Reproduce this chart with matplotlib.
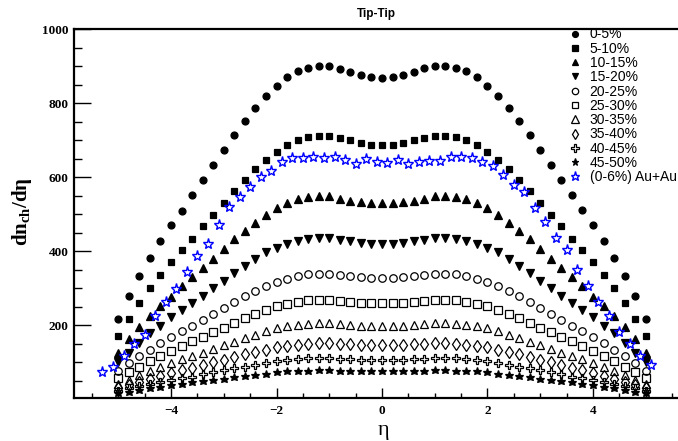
import numpy as np
import matplotlib
matplotlib.use("Agg")
import matplotlib.pyplot as plt

# eta grid of the model curves and of the Au+Au points
eta = [-5.0, -4.8, -4.6, -4.4, -4.2, -4.0, -3.8, -3.6, -3.4, -3.2, -3.0,
       -2.8, -2.6, -2.4, -2.2, -2.0, -1.8, -1.6, -1.4, -1.2, -1.0,
       -0.8, -0.6, -0.4, -0.2, 0.0, 0.2, 0.4, 0.6, 0.8, 1.0,
       1.2, 1.4, 1.6, 1.8, 2.0, 2.2, 2.4, 2.6, 2.8, 3.0,
       3.2, 3.4, 3.6, 3.8, 4.0, 4.2, 4.4, 4.6, 4.8, 5.0]
eta_au = [-5.3, -5.1, -4.9, -4.7, -4.5, -4.3, -4.1, -3.9, -3.7, -3.5, -3.3,
          -3.1, -2.9, -2.7, -2.5, -2.3, -2.1, -1.9, -1.7, -1.5, -1.3,
          -1.1, -0.9, -0.7, -0.5, -0.3, -0.1, 0.1, 0.3, 0.5, 0.7,
          0.9, 1.1, 1.3, 1.5, 1.7, 1.9, 2.1, 2.3, 2.5, 2.7,
          2.9, 3.1, 3.3, 3.5, 3.7, 3.9, 4.1, 4.3, 4.5, 4.7, 4.9, 5.1]

c0_5 = [217, 279, 334, 382, 427, 470, 510, 553, 593, 634, 674, 713, 752, 788, 820, 847,
        870, 886, 896, 901, 901, 893, 885, 877, 871, 868, 871, 877, 885, 894, 900, 901,
        895, 886, 870, 847, 820, 788, 752, 713, 674, 634, 593, 552, 511, 470, 427, 381,
        334, 279, 217]
c5_10 = [171, 217, 260, 300, 335, 370, 403, 434, 467, 499, 530, 563, 592, 621, 647, 669,
         687, 701, 708, 711, 711, 706, 700, 692, 687, 686, 687, 692, 700, 706, 711, 711,
         708, 701, 686, 669, 647, 621, 593, 562, 530, 499, 467, 434, 402, 370, 335, 300,
         260, 217, 171]
c10_15 = [126, 162, 196, 226, 252, 277, 305, 329, 355, 380, 407, 432, 455, 477, 498, 516,
          529, 540, 547, 549, 548, 542, 537, 533, 530, 530, 530, 533, 537, 542, 548, 549,
          547, 540, 529, 516, 498, 477, 455, 432, 407, 380, 355, 329, 305, 277, 252, 226,
          196, 162, 126]
c15_20 = [101, 126, 153, 179, 198, 221, 242, 260, 280, 301, 320, 340, 359, 379, 397, 409,
          419, 427, 433, 435, 435, 431, 427, 422, 420, 420, 420, 422, 427, 431, 435, 435,
          433, 427, 419, 409, 397, 379, 359, 340, 320, 301, 280, 260, 242, 221, 198, 179,
          153, 126, 101]
c20_25 = [75, 97, 116, 133, 151, 167, 183, 199, 214, 231, 247, 262, 278, 292, 305, 316,
          325, 333, 337, 339, 339, 335, 334, 330, 328, 328, 328, 330, 334, 335, 339, 339,
          337, 333, 325, 316, 305, 292, 278, 262, 247, 231, 214, 199, 183, 167, 151, 133,
          116, 97, 75]
c25_30 = [56, 73, 88, 103, 116, 130, 143, 156, 169, 181, 193, 206, 218, 230, 241, 251,
          258, 263, 267, 269, 269, 265, 262, 260, 260, 260, 260, 260, 262, 265, 269, 269,
          267, 263, 258, 251, 241, 230, 218, 206, 193, 181, 169, 156, 143, 130, 116, 103,
          88, 73, 56]
c30_35 = [41, 52, 65, 77, 87, 98, 108, 117, 126, 136, 145, 154, 164, 174, 183, 191,
          197, 201, 204, 205, 205, 202, 200, 199, 198, 198, 198, 199, 200, 202, 205, 205,
          204, 201, 197, 191, 183, 174, 164, 154, 145, 136, 126, 117, 108, 98, 87, 77,
          65, 52, 41]
c35_40 = [31, 38, 47, 55, 63, 71, 78, 85, 93, 100, 107, 114, 121, 128, 134, 140,
          144, 147, 150, 151, 151, 149, 148, 147, 146, 146, 146, 147, 148, 149, 151, 151,
          150, 147, 144, 140, 134, 128, 121, 114, 107, 100, 93, 85, 78, 71, 63, 55,
          47, 38, 31]
c40_45 = [23, 29, 35, 41, 46, 51, 56, 61, 67, 72, 78, 83, 87, 93, 98, 103,
          106, 108, 110, 111, 111, 109, 108, 107, 107, 107, 107, 107, 108, 109, 111, 111,
          110, 108, 106, 103, 98, 93, 87, 83, 78, 72, 67, 61, 56, 51, 46, 41,
          35, 29, 23]
c45_50 = [16, 20, 24, 31, 34, 37, 41, 45, 49, 51, 55, 59, 62, 66, 68, 72,
          75, 76, 77, 78, 78, 77, 76, 76, 76, 76, 76, 76, 76, 77, 78, 78,
          77, 76, 75, 72, 68, 66, 62, 59, 55, 51, 49, 45, 41, 37, 34, 31,
          24, 20, 16]
au_0_6 = [72, 88, 116, 148, 173, 224, 262, 298, 345, 388, 420, 471, 519, 546, 573, 600,
          618, 641, 653, 652, 655, 653, 654, 647, 637, 650, 642, 639, 647, 635, 641, 643,
          645, 654, 655, 653, 640, 630, 607, 578, 561, 516, 480, 436, 403, 349, 306, 262,
          225, 181, 148, 117, 93]

labels = ["0-5%", "5-10%", "10-15%", "15-20%", "20-25%", "25-30%",
          "30-35%", "35-40%", "40-45%", "45-50%"]
series = [c0_5, c5_10, c10_15, c15_20, c20_25, c25_30, c30_35, c35_40, c40_45, c45_50]
# marker, size, filled
styles = [("o", 5.0, True), ("s", 4.7, True), ("^", 5.6, True), ("v", 5.6, True),
          ("o", 5.4, False), ("s", 5.2, False), ("^", 6.2, False), ("d", 6.0, False),
          ("P", 6.0, False), ("*", 6.2, True)]

plt.rcParams["mathtext.fontset"] = "custom"
plt.rcParams["mathtext.rm"] = "Liberation Serif:bold"
plt.rcParams["mathtext.it"] = "Liberation Serif:bold"
plt.rcParams["mathtext.bf"] = "Liberation Serif:bold"

W, H = 678, 441
fig = plt.figure(figsize=(W / 100, H / 100), dpi=100)
# right edge of the frame is cut off in the original
ax = fig.add_axes([74 / W, (H - 398) / H, 616 / W, (398 - 29.3) / H])

for y, lab, (m, ms, filled) in zip(series, labels, styles):
    ax.plot(eta, y, linestyle="none", marker=m, markersize=ms,
            color="black", markerfacecolor="black" if filled else "none",
            markeredgewidth=0.9, label=lab)
ax.plot(eta_au, au_0_6, linestyle="none", marker="*", markersize=8,
        color="blue", markerfacecolor="none", markeredgewidth=1.0,
        label="(0-6%) Au+Au")

ax.set_xlim(-5.84, 5.84)
ax.set_ylim(3, 1000)
ax.set_xticks([-4, -2, 0, 2, 4])
ax.set_xticks(np.arange(-5.5, 5.6, 0.5), minor=True)
ax.set_yticks([200, 400, 600, 800, 1000])
ax.set_yticks(np.arange(50, 1000, 50), minor=True)
ax.set_xticklabels(["\u22124", "\u22122", "0", "2", "4"])

for s in ax.spines.values():
    s.set_linewidth(1.6)
ax.tick_params(axis="both", which="both", direction="in", top=False, right=False)
ax.tick_params(axis="x", which="major", length=7, width=1.0, pad=5)
ax.tick_params(axis="x", which="minor", length=3.5, width=1.0)
ax.tick_params(axis="y", which="major", length=12, width=1.0, pad=4)
ax.tick_params(axis="y", which="minor", length=6, width=1.0)
for t in ax.get_xticklabels() + ax.get_yticklabels():
    t.set_fontfamily("Liberation Serif")
    t.set_fontweight("bold")
    t.set_fontsize(9.5)

fig.text(376 / W, 1 - 14 / H, "Tip-Tip", ha="center", va="center",
         fontfamily="Liberation Sans", fontweight="bold", fontsize=8.5)
fig.text(22 / W, 1 - 212 / H, r"dn$_{\rm ch}$/d$\eta$", rotation=90,
         ha="center", va="center", fontfamily="Liberation Serif",
         fontweight="bold", fontsize=15)
fig.text(383 / W, 1 - 430 / H, "\u03b7", ha="center", va="center",
         fontfamily="Liberation Serif", fontsize=16)

leg = ax.legend(loc="upper left", bbox_to_anchor=(568 / W, 1 - 27.5 / H),
                bbox_transform=fig.transFigure, frameon=False,
                prop={"family": "Liberation Sans", "size": 10},
                handlelength=1.0, handletextpad=0.55, labelspacing=0.02,
                borderpad=0, borderaxespad=0, markerscale=0.85)

fig.savefig("out.png", dpi=100)
